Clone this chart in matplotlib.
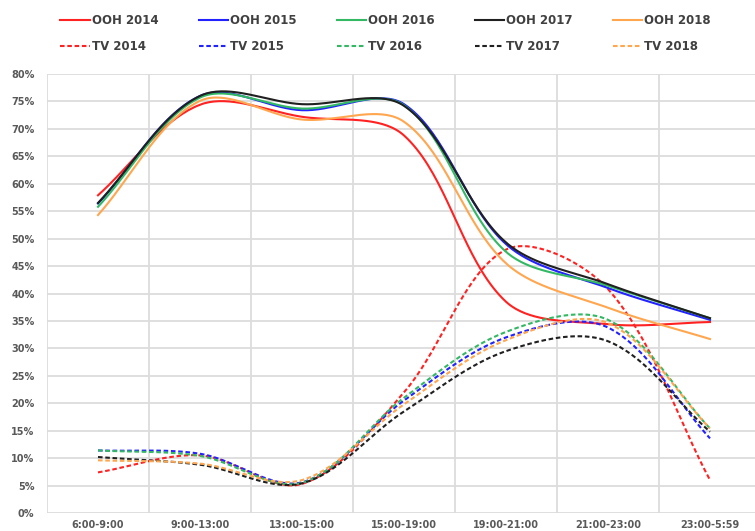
import numpy as np
import matplotlib
matplotlib.use("Agg")
import matplotlib.pyplot as plt

# time slots on the x axis
slots = ['6:00-9:00', '9:00-13:00', '13:00-15:00', '15:00-19:00',
         '19:00-21:00', '21:00-23:00', '23:00-5:59']

# share of reach, in percent
ooh_2014 = [57.9, 74.4, 72.2, 68.8, 38.5, 34.4, 34.8]
ooh_2015 = [56.4, 76.0, 73.4, 74.5, 49.0, 41.0, 35.2]
ooh_2016 = [55.8, 75.7, 73.7, 74.3, 47.6, 41.4, 35.5]
ooh_2017 = [56.5, 76.0, 74.5, 74.2, 49.3, 41.7, 35.5]
ooh_2018 = [54.3, 75.1, 71.7, 71.3, 45.5, 37.4, 31.7]

tv_2014 = [7.4, 10.5, 5.3, 22.0, 48.0, 40.8, 6.0]
tv_2015 = [11.4, 10.8, 5.6, 20.5, 32.0, 33.8, 13.6]
tv_2016 = [11.4, 10.4, 5.5, 21.0, 33.0, 35.2, 15.4]
tv_2017 = [10.2, 8.8, 5.4, 18.5, 29.5, 31.3, 14.8]
tv_2018 = [9.6, 9.0, 6.0, 19.8, 31.5, 34.6, 15.4]

years = ['2014', '2015', '2016', '2017', '2018']
colors = ['#ff2222', '#2222ff', '#33b864', '#202020', '#ffa64f']
ooh = [ooh_2014, ooh_2015, ooh_2016, ooh_2017, ooh_2018]
tv = [tv_2014, tv_2015, tv_2016, tv_2017, tv_2018]


def smooth(xs, ys, n=40, sx=102.0, sy=548.75):
    # excel-like smoothed line, worked out in screen units:
    # bezier through every point, handles weighted by segment length
    pts = np.column_stack([np.asarray(xs) * sx, np.asarray(ys) * sy]).astype(float)
    P = np.vstack([pts[0], pts, pts[-1]])
    out = []
    t = np.linspace(0, 1, n)[:, None]
    for i in range(1, len(P) - 2):
        p0, p1, p2, p3 = P[i - 1], P[i], P[i + 1], P[i + 2]
        d01 = np.hypot(*(p1 - p0))
        d12 = np.hypot(*(p2 - p1))
        d23 = np.hypot(*(p3 - p2))
        c1 = p1 + (p2 - p0) * d12 / (d01 + d12) / 3
        c2 = p2 - (p3 - p1) * d12 / (d12 + d23) / 3
        seg = (1 - t)**3 * p1 + 3 * (1 - t)**2 * t * c1 + 3 * (1 - t) * t**2 * c2 + t**3 * p2
        out.append(seg if i == 1 else seg[1:])
    out = np.vstack(out)
    return out[:, 0] / sx, out[:, 1] / sy


fig = plt.figure(figsize=(7.55, 5.31), dpi=100)
ax = fig.add_axes([47 / 755, 1 - 513 / 531, 714 / 755, 439 / 531])

x = np.arange(len(slots))
handles = []
for yr, c, o, t in zip(years, colors, ooh, tv):
    sx, sy = smooth(x, np.array(o) / 100)
    h1, = ax.plot(sx, sy, color=c, lw=1.5, label='OOH ' + yr)
    sx, sy = smooth(x, np.array(t) / 100)
    h2, = ax.plot(sx, sy, color=c, lw=1.5, ls=(0, (2.2, 1.3)), label='TV ' + yr)
    handles += [h1, h2]

ax.set_xlim(-0.5, len(slots) - 0.5)
ax.set_ylim(0, 0.8)
ax.set_yticks(np.arange(0, 0.801, 0.05))
ax.set_yticklabels(['%d%%' % round(v * 100) for v in np.arange(0, 0.801, 0.05)])
ax.set_xticks(x)
ax.set_xticklabels(slots)
ax.set_xticks(np.arange(-0.5, len(slots)), minor=True)
ax.grid(axis='y', which='major', color='#dcdcdc', lw=1.3)
ax.grid(axis='x', which='minor', color='#dcdcdc', lw=1.3)
ax.set_axisbelow(True)
for sp in ax.spines.values():
    sp.set_visible(False)
ax.tick_params(which='both', length=0, colors='#595959', labelsize=7)
ax.tick_params(axis='y', pad=9)
ax.tick_params(axis='x', pad=5)
for lab in ax.get_xticklabels() + ax.get_yticklabels():
    lab.set_fontweight('bold')

fig.legend(handles=handles, ncol=5, loc='upper left', bbox_to_anchor=(0.066, 0.993),
           frameon=False, handlelength=2.5, handletextpad=0.2, columnspacing=3.35,
           labelspacing=1.1, prop={'size': 8.5, 'weight': 'bold'}, labelcolor='#404040')

fig.savefig('out.png', dpi=100)
